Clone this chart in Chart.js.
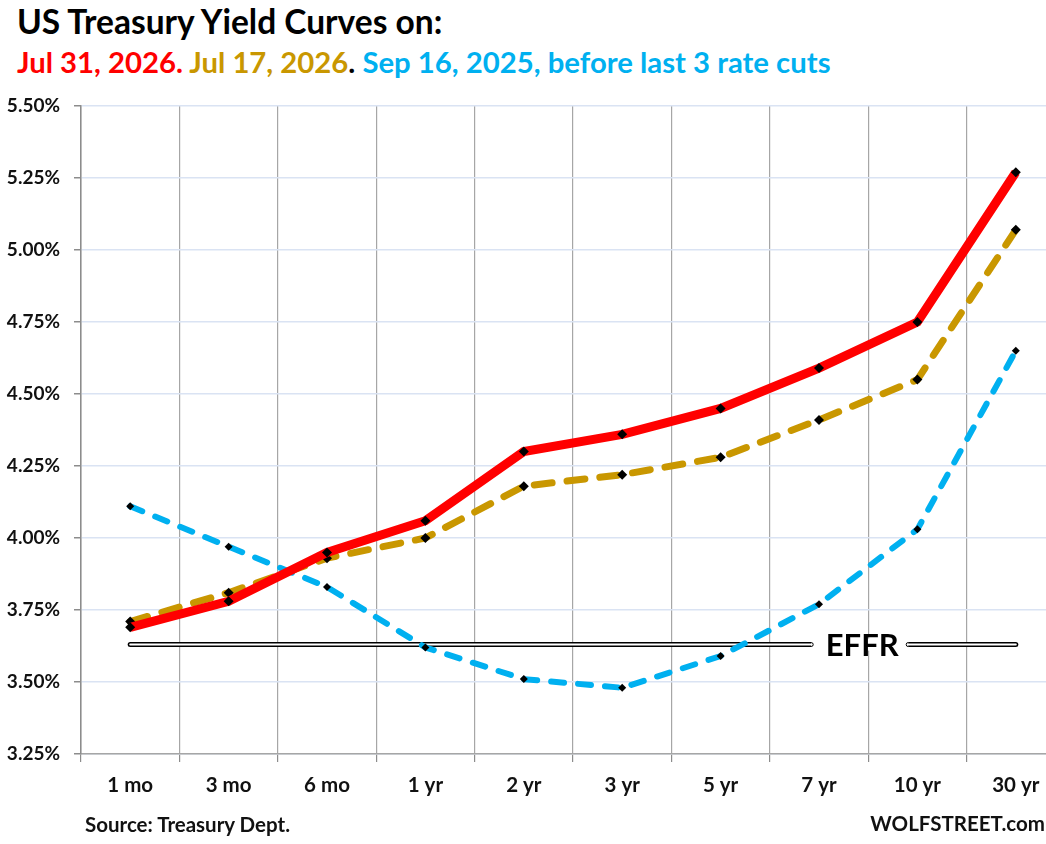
<!DOCTYPE html>
<html>
<head>
<meta charset="utf-8">
<script src="https://cdn.jsdelivr.net/npm/chart.js@4.4.1/dist/chart.umd.min.js"></script>
<style>
  html, body { margin: 0; padding: 0; background: #fff; overflow: hidden; width: 1046px; height: 844px; }
  body { position: relative; font-family: Lato, "Open Sans", sans-serif; font-weight: bold; }
  #wrap { position: absolute; left: 0; top: 0; width: 1070px; height: 844px; }
  .txt { position: absolute; white-space: nowrap; line-height: 1; }
  #title { left: 17px; top: 5px; font-size: 33.5px; color: #000; }
  #subtitle { left: 17px; top: 47px; font-size: 29.3px; }
  #source { left: 85px; top: 814px; font-size: 20.5px; color: #111; }
  #brand { right: 1px; top: 813px; font-size: 20.5px; color: #111; }
</style>
</head>
<body>
<div class="txt" id="title">US Treasury Yield Curves on:</div>
<div class="txt" id="subtitle"><span style="color:#ff0000">Jul 31, 2026.</span> <span style="color:#c99700">Jul 17, 2026</span><span style="color:#000">.</span> <span style="color:#00b0f0">Sep 16, 2025, before last 3 rate cuts</span></div>
<div id="wrap"><canvas id="chart"></canvas></div>
<div class="txt" id="source">Source: Treasury Dept.</div>
<div class="txt" id="brand">WOLFSTREET.com</div>
<script>
// maturities on the x axis
var maturities = ['1 mo', '3 mo', '6 mo', '1 yr', '2 yr', '3 yr', '5 yr', '7 yr', '10 yr', '30 yr'];
// yields in percent
var jul31 = [3.69, 3.78, 3.95, 4.06, 4.30, 4.36, 4.45, 4.59, 4.75, 5.27];
var jul17 = [3.71, 3.81, 3.93, 4.00, 4.18, 4.22, 4.28, 4.41, 4.55, 5.07];
var sep16 = [4.11, 3.97, 3.83, 3.62, 3.51, 3.48, 3.59, 3.77, 4.03, 4.65];
var effrRate = 3.63;
var effrLine = maturities.map(function() { return effrRate; });
var yTicks = [3.25, 3.50, 3.75, 4.00, 4.25, 4.50, 4.75, 5.00, 5.25, 5.50];

var FONT = 'Lato, "Open Sans", sans-serif';

// white box with the EFFR label, cut into the double line
var effrLabel = {
    id: 'effrLabel',
    afterDatasetsDraw: function(chart) {
        var x = chart.scales.x.getPixelForValue(7.5) - 3;
        var y = chart.scales.y.getPixelForValue(effrRate);
        var ctx = chart.ctx;
        ctx.save();
        ctx.fillStyle = '#fff';
        ctx.fillRect(x - 54, y - 6, 97, 12);
        // close the ends of the double line
        ctx.strokeStyle = '#000';
        ctx.lineWidth = 1;
        ctx.beginPath();
        ctx.arc(x - 54, y, 2, -Math.PI / 2, Math.PI / 2);
        ctx.stroke();
        ctx.beginPath();
        ctx.arc(x + 43, y, 2, Math.PI / 2, Math.PI * 1.5);
        ctx.stroke();
        ctx.fillStyle = '#000';
        ctx.font = 'bold 31px ' + FONT;
        ctx.textAlign = 'center';
        ctx.textBaseline = 'middle';
        ctx.fillText('EFFR', x - 3, y + 1);
        ctx.restore();
    }
};

function dot(size) {
    return { pointStyle: 'rectRot', pointRadius: size, pointBackgroundColor: '#000', pointBorderWidth: 0, pointHoverRadius: size };
}

new Chart(document.getElementById('chart').getContext('2d'), {
    type: 'line',
    data: {
        labels: maturities,
        datasets: [
            Object.assign({ label: 'Jul 31, 2026', data: jul31, borderColor: '#ff0000', borderWidth: 9, order: 1 }, dot(5)),
            Object.assign({ label: 'Jul 17, 2026', data: jul17, borderColor: '#c99700', borderWidth: 7,
                borderDash: [18, 15], borderCapStyle: 'round', order: 2 }, dot(5)),
            Object.assign({ label: 'Sep 16, 2025', data: sep16, borderColor: '#00b0f0', borderWidth: 6,
                borderDash: [13, 14], borderCapStyle: 'round', order: 3 }, dot(4)),
            { label: 'EFFR', data: effrLine, borderColor: '#fff', borderWidth: 2, pointRadius: 0, borderCapStyle: 'round', order: 4 },
            { label: 'EFFR edge', data: effrLine, borderColor: '#000', borderWidth: 5, pointRadius: 0, borderCapStyle: 'round', order: 5 }
        ]
    },
    options: {
        responsive: true,
        maintainAspectRatio: false,
        animation: false,
        events: [],
        layout: { padding: { top: 106, right: 5, left: 0, bottom: 0 } },
        elements: { line: { tension: 0, fill: false } },
        plugins: { legend: { display: false }, tooltip: { enabled: false } },
        scales: {
            x: {
                offset: true,
                grid: { offset: true, color: '#a6a6a6', lineWidth: 1.2, tickLength: 8, tickColor: '#8c8c8c' },
                border: { color: '#a6a6a6', width: 1.5 },
                ticks: { color: '#111', padding: 11, font: { family: FONT, size: 20.5, weight: 'bold' }, maxRotation: 0 },
                afterFit: function(scale) { scale.height = 90; }
            },
            y: {
                min: yTicks[0],
                max: yTicks[yTicks.length - 1],
                afterBuildTicks: function(scale) {
                    scale.ticks = yTicks.map(function(v) { return { value: v }; });
                },
                grid: { color: '#dae3f3', lineWidth: 1.5, tickLength: 7, tickColor: '#8c8c8c' },
                border: { color: '#8c8c8c', width: 1.5 },
                ticks: {
                    color: '#111', padding: 14, font: { family: FONT, size: 19, weight: 'bold' },
                    callback: function(v) { return v.toFixed(2) + '%'; }
                },
                afterFit: function(scale) { scale.width = 81; }
            }
        }
    },
    plugins: [effrLabel]
});
</script>
</body>
</html>
